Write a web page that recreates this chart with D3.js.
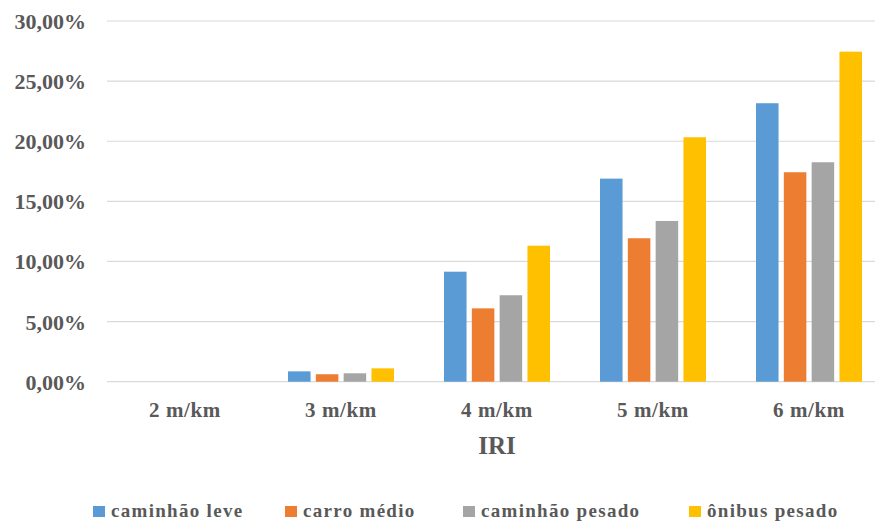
<!DOCTYPE html>
<html>
<head>
<meta charset="utf-8">
<script src="https://cdn.jsdelivr.net/npm/d3@7"></script>
<style>
  html, body { margin: 0; padding: 0; background: #fff; }
  svg { display: block; overflow: hidden; }
  text { font-family: "Liberation Serif", "Times New Roman", serif; font-weight: bold; fill: #595959; }
</style>
</head>
<body>
<svg id="chart" width="875" height="525"></svg>
<script>
// IRI categories (x axis)
const categories = ["2 m/km", "3 m/km", "4 m/km", "5 m/km", "6 m/km"];
// Vehicle classes (legend order)
const seriesNames = ["caminhão leve", "carro médio", "caminhão pesado", "ônibus pesado"];
const seriesColors = ["#5B9BD5", "#ED7D31", "#A5A5A5", "#FFC000"];
// Values in percent, one array per vehicle class
const caminhaoLeve   = [0, 0.86, 9.15, 16.89, 23.16];
const carroMedio     = [0, 0.62, 6.10, 11.93, 17.42];
const caminhaoPesado = [0, 0.70, 7.19, 13.37, 18.25];
const onibusPesado   = [0, 1.11, 11.31, 20.33, 27.45];
// Y axis ticks (percent)
const yTicks = [0, 5, 10, 15, 20, 25, 30];
const xTitle = "IRI";

const seriesValues = [caminhaoLeve, carroMedio, caminhaoPesado, onibusPesado];

const svg = d3.select("#chart");
const plot = { left: 107, right: 887, top: 21, bottom: 381.7 };

const x0 = d3.scaleBand().domain(categories).range([plot.left, plot.right]).padding(0);
const x1 = d3.scaleBand().domain(seriesNames).range([25, 131]).paddingInner(0.19).paddingOuter(0);
const y = d3.scaleLinear().domain([0, 30]).range([plot.bottom, plot.top]);

const locale = d3.formatLocale({ decimal: ",", thousands: ".", grouping: [3], currency: ["R$", ""] });
const fmt = v => locale.format(".2f")(v) + "%";

// Gridlines
svg.append("g")
  .selectAll("line")
  .data(yTicks)
  .join("line")
  .attr("x1", plot.left)
  .attr("x2", plot.right)
  .attr("y1", d => y(d))
  .attr("y2", d => y(d))
  .attr("stroke", "#d9d9d9")
  .attr("stroke-width", 1.2);

// Y axis labels
const yAxis = d3.axisLeft(y).tickValues(yTicks).tickFormat(fmt).tickSize(0).tickPadding(0);
const gy = svg.append("g").attr("transform", "translate(86,0)").call(yAxis);
gy.select(".domain").remove();
gy.selectAll("text")
  .attr("font-family", null)
  .style("font-size", "22px")
  .attr("dy", "0.34em");

// Bars
const groups = svg.append("g")
  .selectAll("g")
  .data(categories)
  .join("g")
  .attr("transform", d => `translate(${x0(d)},0)`);

groups.selectAll("rect")
  .data((c, i) => seriesNames.map((s, k) => ({ s, k, v: seriesValues[k][i] })))
  .join("rect")
  .attr("x", d => x1(d.s))
  .attr("width", x1.bandwidth())
  .attr("y", d => y(d.v))
  .attr("height", d => y(0) - y(d.v))
  .attr("fill", d => seriesColors[d.k]);

// X axis labels
const xAxis = d3.axisBottom(x0).tickSize(0).tickPadding(0);
const gx = svg.append("g").attr("transform", `translate(0,${plot.bottom})`).call(xAxis);
gx.select(".domain").remove();
gx.selectAll("text")
  .attr("font-family", null)
  .attr("y", 28)
  .attr("dy", "0.35em")
  .style("font-size", "21px")
  .style("letter-spacing", "0.6px");

// X axis title
svg.append("text")
  .attr("x", x0("4 m/km") + x0.bandwidth() / 2)
  .attr("y", 445)
  .attr("dy", "0.35em")
  .attr("text-anchor", "middle")
  .style("font-size", "25px")
  .text(xTitle);

// Legend
const legendX = [93, 285, 463, 689];
const legend = svg.append("g")
  .selectAll("g")
  .data(seriesNames)
  .join("g")
  .attr("transform", (d, i) => `translate(${legendX[i]},506)`);

legend.append("rect")
  .attr("width", 12)
  .attr("height", 11)
  .attr("fill", (d, i) => seriesColors[i]);

legend.append("text")
  .attr("x", 18)
  .attr("y", 11)
  .style("font-size", "19px")
  .style("letter-spacing", "1.3px")
  .text(d => d);
</script>
</body>
</html>
